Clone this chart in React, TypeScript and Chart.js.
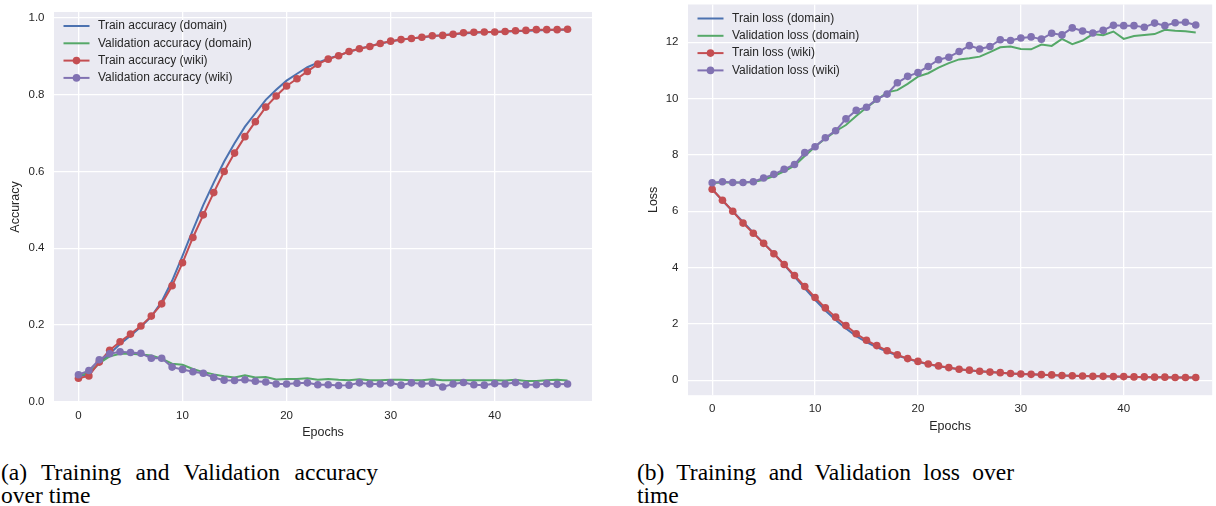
import React, { useEffect, useRef } from "react";
import { Chart, registerables } from "chart.js";

Chart.register(...registerables);

// ---------------- data ----------------
const epochs = [
  0, 1, 2, 3, 4, 5, 6, 7, 8, 9, 10, 11, 12, 13, 14, 15, 16, 17, 18, 19, 20, 21, 22, 23,
  24, 25, 26, 27, 28, 29, 30, 31, 32, 33, 34, 35, 36, 37, 38, 39, 40, 41, 42, 43, 44, 45, 46, 47,
];

const accTrainDomain = [
  0.065, 0.073, 0.1, 0.125, 0.15, 0.172, 0.195, 0.222, 0.261, 0.315, 0.38, 0.448, 0.513, 0.571,
  0.626, 0.674, 0.717, 0.752, 0.787, 0.813, 0.837, 0.855, 0.872, 0.884, 0.894, 0.903, 0.912,
  0.92, 0.927, 0.934, 0.939, 0.944, 0.947, 0.95, 0.953, 0.956, 0.958, 0.96, 0.962, 0.963, 0.964,
  0.965, 0.966, 0.967, 0.968, 0.969, 0.97, 0.97,
];
const accValDomain = [
  0.068, 0.075, 0.1, 0.118, 0.125, 0.125, 0.123, 0.12, 0.112, 0.099, 0.096, 0.085, 0.077, 0.071,
  0.066, 0.063, 0.069, 0.063, 0.064, 0.058, 0.059, 0.059, 0.061, 0.057, 0.059, 0.057, 0.056,
  0.058, 0.056, 0.056, 0.057, 0.057, 0.056, 0.056, 0.058, 0.056, 0.056, 0.056, 0.056, 0.056,
  0.056, 0.055, 0.057, 0.054, 0.054, 0.056, 0.057, 0.055,
];
const accTrainWiki = [
  0.061, 0.067, 0.103, 0.134, 0.156, 0.176, 0.197, 0.223, 0.255, 0.302, 0.362, 0.428, 0.487,
  0.545, 0.6, 0.648, 0.691, 0.73, 0.768, 0.797, 0.823, 0.842, 0.861, 0.88, 0.893, 0.902, 0.913,
  0.92, 0.926, 0.934, 0.94, 0.944, 0.947, 0.95, 0.954, 0.955, 0.958, 0.962, 0.963, 0.964, 0.964,
  0.965, 0.967, 0.968, 0.97, 0.97, 0.97, 0.971,
];
const accValWiki = [
  0.07, 0.081, 0.109, 0.125, 0.13, 0.128, 0.126, 0.113, 0.113, 0.09, 0.084, 0.078, 0.074, 0.063,
  0.056, 0.055, 0.057, 0.053, 0.051, 0.046, 0.046, 0.048, 0.049, 0.044, 0.044, 0.042, 0.043,
  0.049, 0.046, 0.046, 0.049, 0.043, 0.049, 0.046, 0.048, 0.038, 0.046, 0.05, 0.044, 0.043,
  0.047, 0.046, 0.05, 0.044, 0.044, 0.047, 0.045, 0.046,
];

const lossTrainDomain = [
  6.78, 6.38, 6.0, 5.62, 5.24, 4.87, 4.5, 4.1, 3.68, 3.26, 2.86, 2.48, 2.14, 1.84, 1.57, 1.35,
  1.17, 1.02, 0.88, 0.76, 0.66, 0.57, 0.5, 0.44, 0.39, 0.35, 0.32, 0.29, 0.27, 0.24, 0.22, 0.21,
  0.2, 0.18, 0.17, 0.16, 0.15, 0.14, 0.14, 0.13, 0.12, 0.12, 0.11, 0.11, 0.11, 0.1, 0.1, 0.1,
];
const lossValDomain = [
  7.0, 7.02, 7.02, 7.02, 7.04, 7.12, 7.25, 7.42, 7.62, 7.96, 8.29, 8.58, 8.84, 9.06, 9.38, 9.68,
  9.95, 10.22, 10.3, 10.52, 10.78, 10.9, 11.1, 11.26, 11.39, 11.43, 11.49, 11.65, 11.82, 11.85,
  11.76, 11.75, 11.92, 11.87, 12.12, 11.93, 12.06, 12.29, 12.25, 12.38, 12.12, 12.22, 12.26,
  12.29, 12.44, 12.41, 12.39, 12.35,
];
const lossTrainWiki = [
  6.78, 6.39, 6.0, 5.58, 5.22, 4.86, 4.49, 4.11, 3.72, 3.33, 2.94, 2.57, 2.24, 1.94, 1.65, 1.42,
  1.23, 1.05, 0.9, 0.77, 0.67, 0.58, 0.51, 0.45, 0.39, 0.36, 0.32, 0.29, 0.27, 0.24, 0.22, 0.21,
  0.2, 0.19, 0.17, 0.16, 0.15, 0.14, 0.14, 0.13, 0.13, 0.12, 0.12, 0.11, 0.11, 0.1, 0.1, 0.1,
];
const lossValWiki = [
  7.01, 7.05, 7.02, 7.02, 7.05, 7.18, 7.31, 7.49, 7.66, 8.08, 8.29, 8.61, 8.86, 9.28, 9.58, 9.69,
  9.98, 10.16, 10.56, 10.79, 10.92, 11.14, 11.38, 11.47, 11.67, 11.88, 11.76, 11.85, 12.09, 12.06,
  12.15, 12.19, 12.11, 12.32, 12.26, 12.51, 12.4, 12.33, 12.42, 12.6, 12.59, 12.59, 12.53, 12.68,
  12.59, 12.69, 12.71, 12.61,
];

const accLabels = [
  "Train accuracy (domain)",
  "Validation accuracy (domain)",
  "Train accuracy (wiki)",
  "Validation accuracy (wiki)",
];
const lossLabels = [
  "Train loss (domain)",
  "Validation loss (domain)",
  "Train loss (wiki)",
  "Validation loss (wiki)",
];
const xTickStep = 10;
const accTickStep = 0.2;
const lossTickStep = 2;

// ---------------- styles ----------------
const BLUE = "#4C72B0";
const GREEN = "#55A868";
const RED = "#C44E52";
const PURPLE = "#8172B2";
const AX_BG = "#EAEAF2";
const TEXT = "#262626";
const SANS = "'Liberation Sans', Arial, sans-serif";
const SERIF = "'Liberation Serif', 'Times New Roman', serif";

const bgPlugin = {
  id: "axBg",
  beforeDraw(chart: any) {
    const { ctx, chartArea } = chart;
    ctx.save();
    ctx.fillStyle = AX_BG;
    ctx.fillRect(chartArea.left, chartArea.top, chartArea.right - chartArea.left, chartArea.bottom - chartArea.top);
    ctx.restore();
  },
};

const legendPlugin = {
  id: "insideLegend",
  afterDatasetsDraw(chart: any, _args: any, opts: any) {
    const { ctx, chartArea } = chart;
    const ds = chart.data.datasets;
    ctx.save();
    ds.forEach((d: any, i: number) => {
      const y = chartArea.top + opts.top + i * opts.spacing;
      const x0 = chartArea.left + opts.left;
      ctx.strokeStyle = d.borderColor;
      ctx.lineWidth = 2;
      ctx.beginPath();
      ctx.moveTo(x0, y);
      ctx.lineTo(x0 + opts.length, y);
      ctx.stroke();
      if (d.pointRadius > 0) {
        ctx.fillStyle = d.borderColor;
        ctx.beginPath();
        ctx.arc(x0 + opts.length / 2, y, d.pointRadius, 0, Math.PI * 2);
        ctx.fill();
      }
      ctx.fillStyle = TEXT;
      ctx.font = `12px ${SANS}`;
      ctx.textBaseline = "middle";
      ctx.textAlign = "left";
      ctx.fillText(d.label, x0 + opts.length + opts.gap, y);
    });
    ctx.restore();
  },
};

function series(label: string, values: number[], color: string, marker: boolean, order: number) {
  return {
    label,
    data: values.map((v, i) => ({ x: epochs[i], y: v })),
    borderColor: color,
    backgroundColor: color,
    borderWidth: 2,
    pointRadius: marker ? 3.8 : 0,
    pointBorderWidth: 0,
    pointBackgroundColor: color,
    pointHoverRadius: marker ? 3.8 : 0,
    tension: 0,
    order,
  };
}

interface AxisSpec {
  xMin: number;
  xMax: number;
  yMin: number;
  yMax: number;
  yStep: number;
  yFmt: (v: number) => string;
  yTitle: string;
  padTop: number;
  padRight: number;
  yWidth: number;
  xHeight: number;
  yTitlePad: number;
  xTitlePad: number;
}

function makeConfig(datasets: any[], a: AxisSpec): any {
  return {
    type: "line",
    data: { datasets },
    options: {
      animation: false,
      responsive: false,
      maintainAspectRatio: false,
      devicePixelRatio: 1,
      events: [],
      layout: { padding: { left: 0, top: a.padTop, right: a.padRight, bottom: 0 } },
      plugins: {
        legend: { display: false },
        tooltip: { enabled: false },
        insideLegend: { top: 14, left: 9.5, spacing: 17.3, length: 26, gap: 8.5 },
      },
      scales: {
        x: {
          type: "linear",
          min: a.xMin,
          max: a.xMax,
          afterFit(s: any) {
            s.height = a.xHeight;
            s.paddingLeft = 0;
            s.paddingRight = 0;
          },
          grid: { color: "#FFFFFF", lineWidth: 1.3, drawTicks: false },
          border: { display: false },
          ticks: {
            stepSize: xTickStep,
            includeBounds: false,
            padding: 7,
            color: TEXT,
            maxRotation: 0,
            font: { family: SANS, size: 11.5 },
            callback: (v: any) => String(v),
          },
          title: {
            display: true,
            text: "Epochs",
            color: TEXT,
            font: { family: SANS, size: 12.5 },
            padding: { top: 0, bottom: a.xTitlePad },
          },
        },
        y: {
          type: "linear",
          min: a.yMin,
          max: a.yMax,
          afterFit(s: any) {
            s.width = a.yWidth;
            s.paddingTop = 0;
            s.paddingBottom = 0;
          },
          grid: { color: "#FFFFFF", lineWidth: 1.3, drawTicks: false },
          border: { display: false },
          ticks: {
            stepSize: a.yStep,
            includeBounds: false,
            padding: 9.5,
            color: TEXT,
            font: { family: SANS, size: 11.5 },
            callback: (v: any) => a.yFmt(Number(v)),
          },
          title: {
            display: true,
            text: a.yTitle,
            color: TEXT,
            font: { family: SANS, size: 12.5 },
            padding: { top: a.yTitlePad, bottom: 0 },
          },
        },
      },
    },
    plugins: [bgPlugin, legendPlugin],
  };
}

function ChartCanvas({ config, left, width, height }: { config: any; left: number; width: number; height: number }) {
  const ref = useRef<HTMLCanvasElement | null>(null);
  useEffect(() => {
    if (!ref.current) return;
    const chart = new Chart(ref.current, config);
    return () => chart.destroy();
  }, [config]);
  return (
    <canvas
      ref={ref}
      width={width}
      height={height}
      style={{ position: "absolute", left, top: 0, width, height, display: "block" }}
    />
  );
}

const accConfig = makeConfig(
  [
    series(accLabels[0], accTrainDomain, BLUE, false, 3),
    series(accLabels[1], accValDomain, GREEN, false, 2),
    series(accLabels[2], accTrainWiki, RED, true, 1),
    series(accLabels[3], accValWiki, PURPLE, true, 0),
  ],
  {
    xMin: -2.35,
    xMax: 49.35,
    yMin: -0.001,
    yMax: 1.016,
    yStep: accTickStep,
    yFmt: (v) => v.toFixed(1),
    yTitle: "Accuracy",
    padTop: 12,
    padRight: 8,
    yWidth: 54,
    xHeight: 48,
    yTitlePad: 8.5,
    xTitlePad: 9.5,
  }
);

const lossConfig = makeConfig(
  [
    series(lossLabels[0], lossTrainDomain, BLUE, false, 3),
    series(lossLabels[1], lossValDomain, GREEN, false, 2),
    series(lossLabels[2], lossTrainWiki, RED, true, 1),
    series(lossLabels[3], lossValWiki, PURPLE, true, 0),
  ],
  {
    xMin: -2.35,
    xMax: 48.6,
    yMin: -0.53,
    yMax: 13.34,
    yStep: lossTickStep,
    yFmt: (v) => String(Math.round(v)),
    yTitle: "Loss",
    padTop: 4.5,
    padRight: 0,
    yWidth: 78,
    xHeight: 54.8,
    yTitlePad: 36,
    xTitlePad: 15.5,
  }
);

function Caption({ left, line1, line2 }: { left: number; line1: string; line2: string }) {
  const common: React.CSSProperties = {
    position: "absolute",
    left,
    width: 377,
    fontFamily: SERIF,
    fontSize: 23.5,
    lineHeight: "23px",
    color: "#000",
    whiteSpace: "nowrap",
  };
  return (
    <>
      <div style={{ ...common, top: 461, textAlign: "justify", textAlignLast: "justify" }}>{line1}</div>
      <div style={{ ...common, top: 484, textAlign: "left" }}>{line2}</div>
    </>
  );
}

export default function App() {
  return (
    <div style={{ position: "absolute", left: 0, top: 0, width: 1216, height: 506, background: "#fff", overflow: "hidden" }}>
      <ChartCanvas config={accConfig} left={0} width={600} height={450} />
      <ChartCanvas config={lossConfig} left={610} width={606} height={450} />
      <Caption left={1} line1="(a) Training and Validation accuracy" line2="over time" />
      <Caption left={637} line1="(b) Training and Validation loss over" line2="time" />
    </div>
  );
}
